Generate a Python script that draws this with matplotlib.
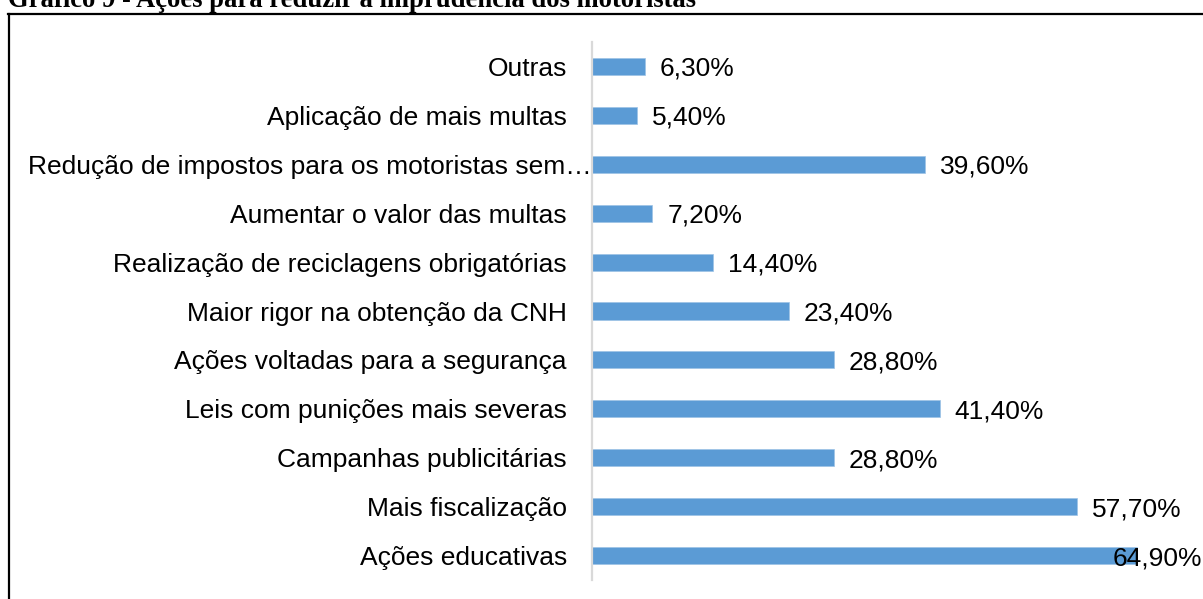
import numpy as np
import matplotlib
matplotlib.use("Agg")
from matplotlib import pyplot as plt
from matplotlib.lines import Line2D
from matplotlib.transforms import blended_transform_factory

# dados (de baixo para cima)
categorias = ["Ações educativas", "Mais fiscalização", "Campanhas publicitárias",
              "Leis com punições mais severas", "Ações voltadas para a segurança",
              "Maior rigor na obtenção da CNH", "Realização de reciclagens obrigatórias",
              "Aumentar o valor das multas", "Redução de impostos para os motoristas sem…",
              "Aplicação de mais multas", "Outras"]
valores = [64.9, 57.7, 28.8, 41.4, 28.8, 23.4, 14.4, 7.2, 39.6, 5.4, 6.3]
titulo = "Gráfico 9 - Ações para reduzir a imprudência dos motoristas"

W, H = 1203, 599
fig = plt.figure(figsize=(W / 100, H / 100), dpi=100)
plt.rcParams['font.family'] = ['Liberation Sans', 'DejaVu Sans']

# area do grafico em pixels
x0, x1 = 592, 1203
ytop, ybot = 42, 580
ax = fig.add_axes([x0 / W, 1 - ybot / H, (x1 - x0) / W, (ybot - ytop) / H])

y = np.arange(len(categorias))
ax.barh(y, valores, height=0.35, color="#5B9BD5", edgecolor="#9DC3E6", linewidth=0.5, zorder=2)
ax.set_xlim(0, (x1 - x0) / 8.4)
ax.set_ylim(-0.5, len(categorias) - 0.5)
ax.set_xticks([])
ax.set_yticks([])
for s in ["top", "right", "bottom"]:
    ax.spines[s].set_visible(False)
ax.spines["left"].set_color("#D9D9D9")
ax.spines["left"].set_linewidth(1.6)

fs = 19
tr = blended_transform_factory(fig.transFigure, ax.transData)
for i, (c, v) in enumerate(zip(categorias, valores)):
    if c.endswith("…"):
        ax.text(592 / W, i, c, transform=tr, ha="right", va="center_baseline", fontsize=fs)
    else:
        ax.text(567 / W, i, c, transform=tr, ha="right", va="center_baseline", fontsize=fs)
    rotulo = f"{v:.2f}".replace(".", ",") + "%"
    xl = v + 15 / 8.4
    if (xl * 8.4 + x0 + 90) > W:
        ax.text(1202 / W, i, rotulo, transform=tr, ha="right", va="center_baseline",
                fontsize=fs, zorder=3)
    else:
        ax.text(xl, i, rotulo, ha="left", va="center_baseline", fontsize=fs, zorder=3)

# titulo cortado no topo
t = fig.text(8 / W, 1 - 7 / H, titulo, ha="left", va="baseline",
             fontsize=20, fontweight="bold", family="Liberation Serif")
fig.canvas.draw()
w = t.get_window_extent(fig.canvas.get_renderer()).width
t.set_fontsize(20 * 690 / w)

# moldura
fig.add_artist(Line2D([9 / W, 9 / W], [0, 1 - 14 / H], color="black", lw=1.6))
fig.add_artist(Line2D([8 / W, 1], [1 - 14 / H, 1 - 14 / H], color="black", lw=1.6))

fig.savefig("out.png", dpi=100)
